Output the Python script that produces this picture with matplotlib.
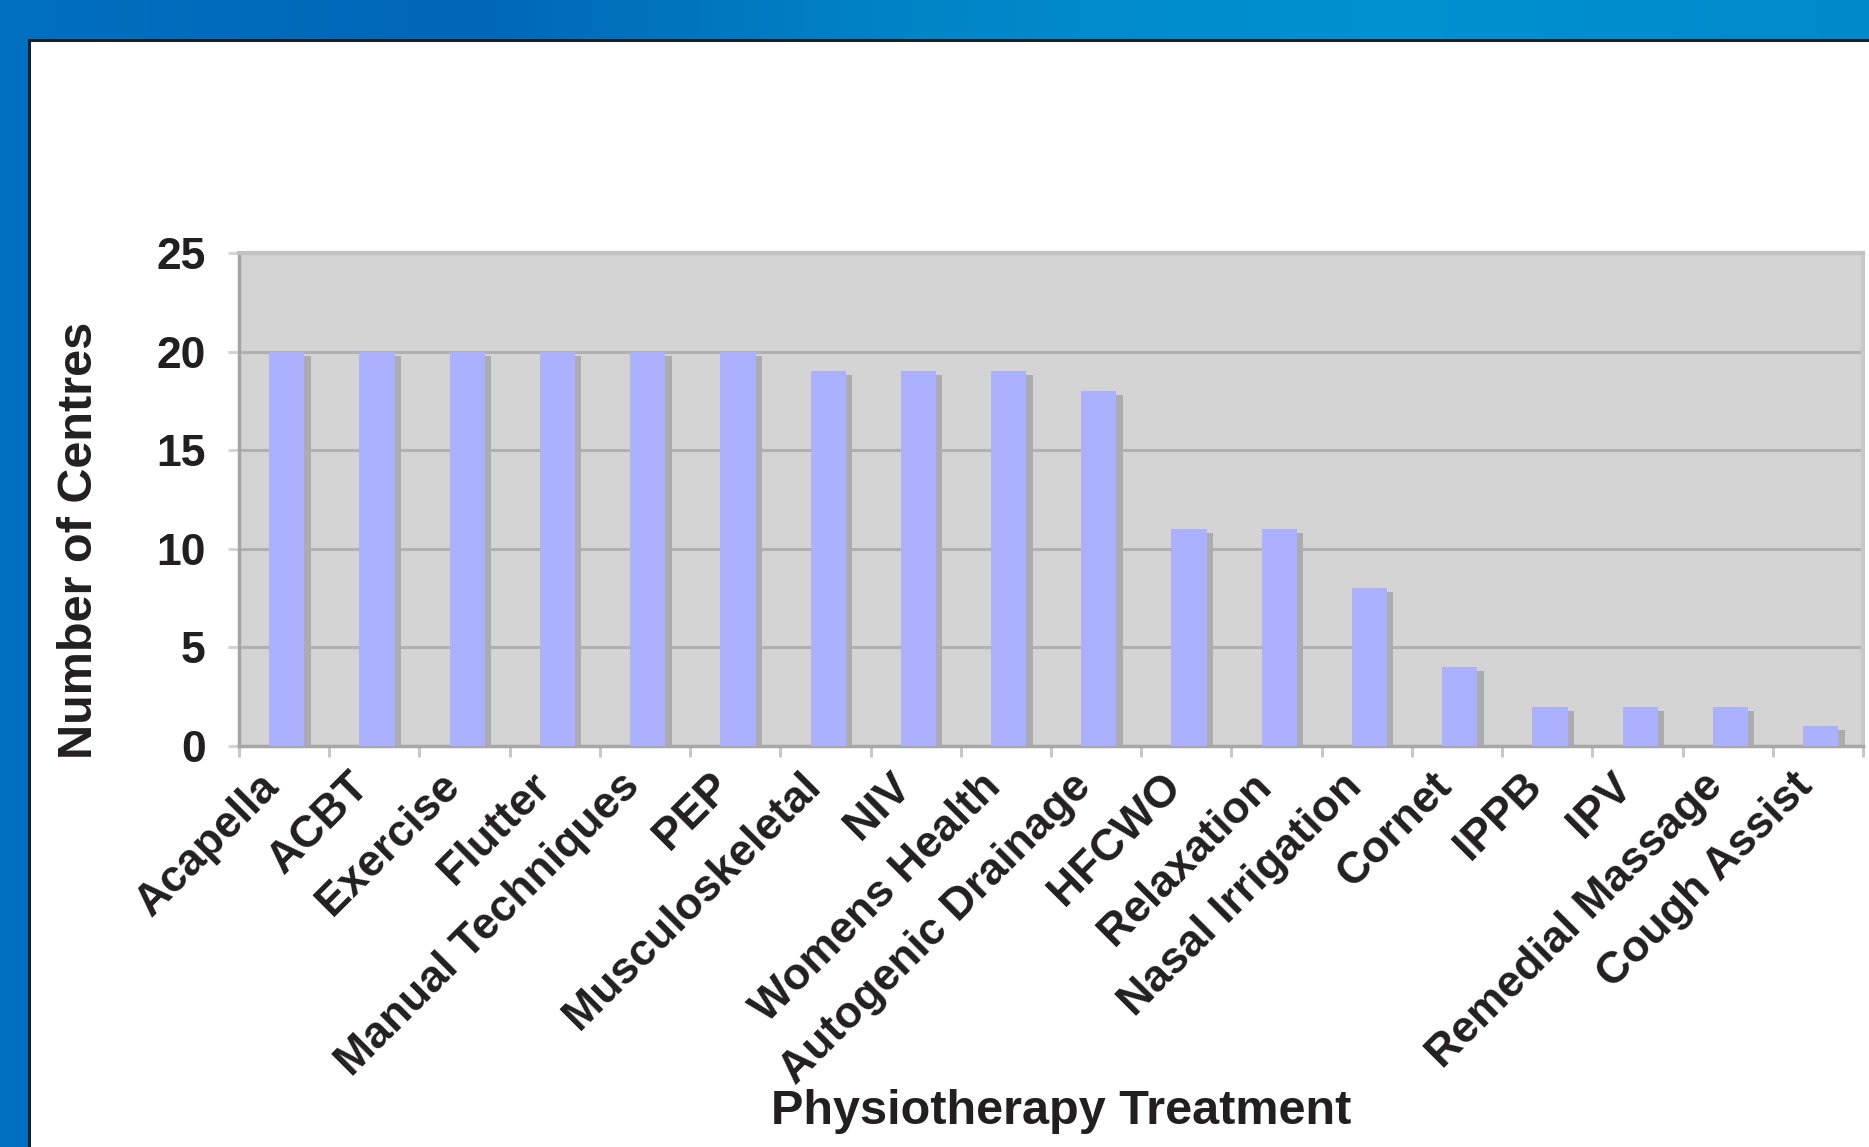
import matplotlib
matplotlib.use("Agg")
import matplotlib.pyplot as plt
import numpy as np
from matplotlib.patches import Rectangle
from matplotlib.transforms import ScaledTranslation
from matplotlib.colors import LinearSegmentedColormap

categories = ["Acapella", "ACBT", "Exercise", "Flutter", "Manual Techniques", "PEP",
              "Musculoskeletal", "NIV", "Womens Health", "Autogenic Drainage", "HFCWO",
              "Relaxation", "Nasal Irrigation", "Cornet", "IPPB", "IPV",
              "Remedial Massage", "Cough Assist"]
values = [20, 20, 20, 20, 20, 20, 19, 19, 19, 18, 11, 11, 8, 4, 2, 2, 2, 1]
yticks = [0, 5, 10, 15, 20, 25]
xlabel = "Physiotherapy Treatment"
ylabel = "Number of Centres"

W, H = 1869, 1147
fig = plt.figure(figsize=(W / 100, H / 100), dpi=100)
plt.rcParams['font.family'] = ['Liberation Sans', 'DejaVu Sans']
txt = '#231f20'

# background: blue frame with gradient, white slide area
bg = fig.add_axes([0, 0, 1, 1], zorder=-10)
bg.set_axis_off()
grad = np.linspace(0, 1, 256)[None, :]
cmap = LinearSegmentedColormap.from_list('b', ['#0070c0', '#0066b8', '#0086c8', '#0092d2', '#0088cc'])
bg.imshow(grad, aspect='auto', cmap=cmap, extent=[0, W, 0, H])
bg.set_xlim(0, W)
bg.set_ylim(H, 0)
bg.add_patch(Rectangle((28, 39), W, H, facecolor='#1e1e1e', edgecolor='none'))
bg.add_patch(Rectangle((31, 42), W, H, facecolor='white', edgecolor='none'))

ax = fig.add_axes([239 / W, 1 - 746 / H, (1863 - 239) / W, (746 - 253) / H])
ax.set_facecolor('#d4d4d4')
x = np.arange(len(categories))
bw = 0.39
# shadow
ax.bar(x + 0.03 + 0.07, np.array(values) - 0.2, width=bw, color='#acacac', zorder=2)
ax.bar(x + 0.03, values, width=bw, color='#abb0ff', zorder=3)

ax.set_xlim(-0.5, len(categories) - 0.5)
ax.set_ylim(0, 25)
ax.set_yticks(yticks)
ax.set_yticklabels([str(v) for v in yticks])
ax.yaxis.grid(True, color='#b0b0b0', linewidth=2.2, zorder=1)
ax.set_axisbelow(True)

ax.set_xticks(x)
ax.set_xticklabels(categories, rotation=45, ha='right', va='top', rotation_mode='anchor')
ax.set_xticks(np.arange(len(categories) + 1) - 0.5, minor=True)
ax.tick_params(axis='x', which='major', length=0, pad=14, labelsize=32, labelcolor=txt)
ax.tick_params(axis='x', which='minor', length=8, width=2.2, color='#c8c8c8', direction='out')
ax.tick_params(axis='y', length=8, width=2.2, color='#d4d4d4', pad=16, labelsize=32, labelcolor=txt)
for lab in ax.get_yticklabels():
    lab.set_fontweight('bold')
shift = ScaledTranslation(-26 / 100, 0, fig.dpi_scale_trans)
for lab in ax.get_xticklabels():
    lab.set_fontweight('bold')
    lab.set_transform(lab.get_transform() + shift)

ax.spines['left'].set_color('#a4a4a4')
ax.spines['left'].set_linewidth(2.5)
ax.spines['bottom'].set_color('#a8a8a8')
ax.spines['bottom'].set_linewidth(2.5)
ax.spines['top'].set_color('#c2c2c2')
ax.spines['top'].set_linewidth(3)
ax.spines['right'].set_color('#c8c8c8')
ax.spines['right'].set_linewidth(3)

fig.text(1061 / W, 1 - 1112 / H, xlabel, ha='center', va='center', fontsize=35,
         fontweight='bold', color=txt)
fig.text(80 / W, 1 - 540 / H, ylabel, ha='center', va='center', fontsize=35,
         fontweight='bold', color=txt, rotation=90)

fig.savefig('out.png', dpi=100)
